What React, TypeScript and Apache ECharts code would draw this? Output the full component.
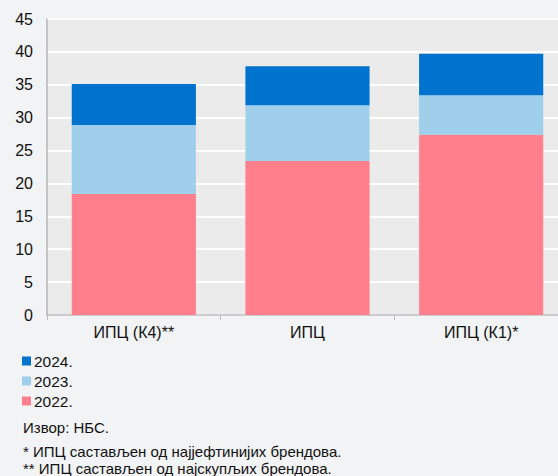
import React, { useEffect, useRef } from "react";
import * as echarts from "echarts";

const categories = ["ИПЦ (К4)**", "ИПЦ", "ИПЦ (К1)*"];
const v2022 = [18.4, 23.4, 27.4];
const v2023 = [10.5, 8.5, 6.0];
const v2024 = [6.2, 5.9, 6.3];
const yTicks = { min: 0, max: 45, interval: 5 };
const notes = [
  "Извор: НБС.",
  "* ИПЦ састављен од најјефтинијих брендова.",
  "** ИПЦ састављен од најскупљих брендова.",
];

const FONT = "Liberation Sans, Arial, sans-serif";

export default function App() {
  const ref = useRef<HTMLDivElement>(null);
  useEffect(() => {
    if (!ref.current) return;
    const chart = echarts.init(ref.current, undefined, { renderer: "svg" });
    chart.setOption({
      animation: false,
      backgroundColor: "#f2f3f5",
      textStyle: { fontFamily: FONT },
      grid: {
        left: 47,
        top: 19,
        right: 0,
        bottom: 161,
        show: true,
        backgroundColor: "#ebebeb",
        borderColor: "#c4c4c4",
        borderWidth: 1,
      },
      legend: {
        orient: "vertical",
        left: 22,
        top: 353,
        itemWidth: 9,
        itemHeight: 9,
        itemGap: 4,
        icon: "rect",
        padding: 0,
        data: ["2024.", "2023.", "2022."],
        textStyle: { fontSize: 15.5, color: "#111", fontFamily: FONT, padding: [0, 0, 0, -2] },
      },
      xAxis: {
        type: "category",
        data: categories,
        axisLine: { show: true, lineStyle: { color: "#bdbdbd", width: 1.5 } },
        axisTick: { show: true, length: 5, lineStyle: { color: "#bdbdbd" } },
        axisLabel: { fontSize: 16, color: "#111", margin: 9, fontFamily: FONT },
      },
      yAxis: {
        type: "value",
        min: yTicks.min,
        max: yTicks.max,
        interval: yTicks.interval,
        axisLine: { show: true, lineStyle: { color: "#bdbdbd", width: 1.5 } },
        axisTick: { show: false },
        axisLabel: { fontSize: 16, color: "#111", margin: 14, fontFamily: FONT },
        splitLine: { show: true, lineStyle: { color: "#ffffff", width: 2 } },
      },
      series: [
        {
          name: "2022.",
          type: "bar",
          stack: "a",
          data: v2022,
          barWidth: "71.5%",
          itemStyle: { color: "#ff808c" },
        },
        {
          name: "2023.",
          type: "bar",
          stack: "a",
          data: v2023,
          itemStyle: { color: "#a0cfeb" },
        },
        {
          name: "2024.",
          type: "bar",
          stack: "a",
          data: v2024,
          itemStyle: { color: "#0073cf" },
        },
      ],
      graphic: notes.map((t, i) => ({
        type: "text",
        left: 23,
        top: [420, 444, 461][i],
        style: { text: t, fontSize: 15, fill: "#111", fontFamily: FONT },
      })),
    });
    return () => chart.dispose();
  }, []);
  return (
    <div
      style={{ position: "absolute", left: 0, top: 0, width: 558, height: 476, overflow: "hidden" }}
    >
      <div ref={ref} style={{ width: 568, height: 476 }} />
    </div>
  );
}
